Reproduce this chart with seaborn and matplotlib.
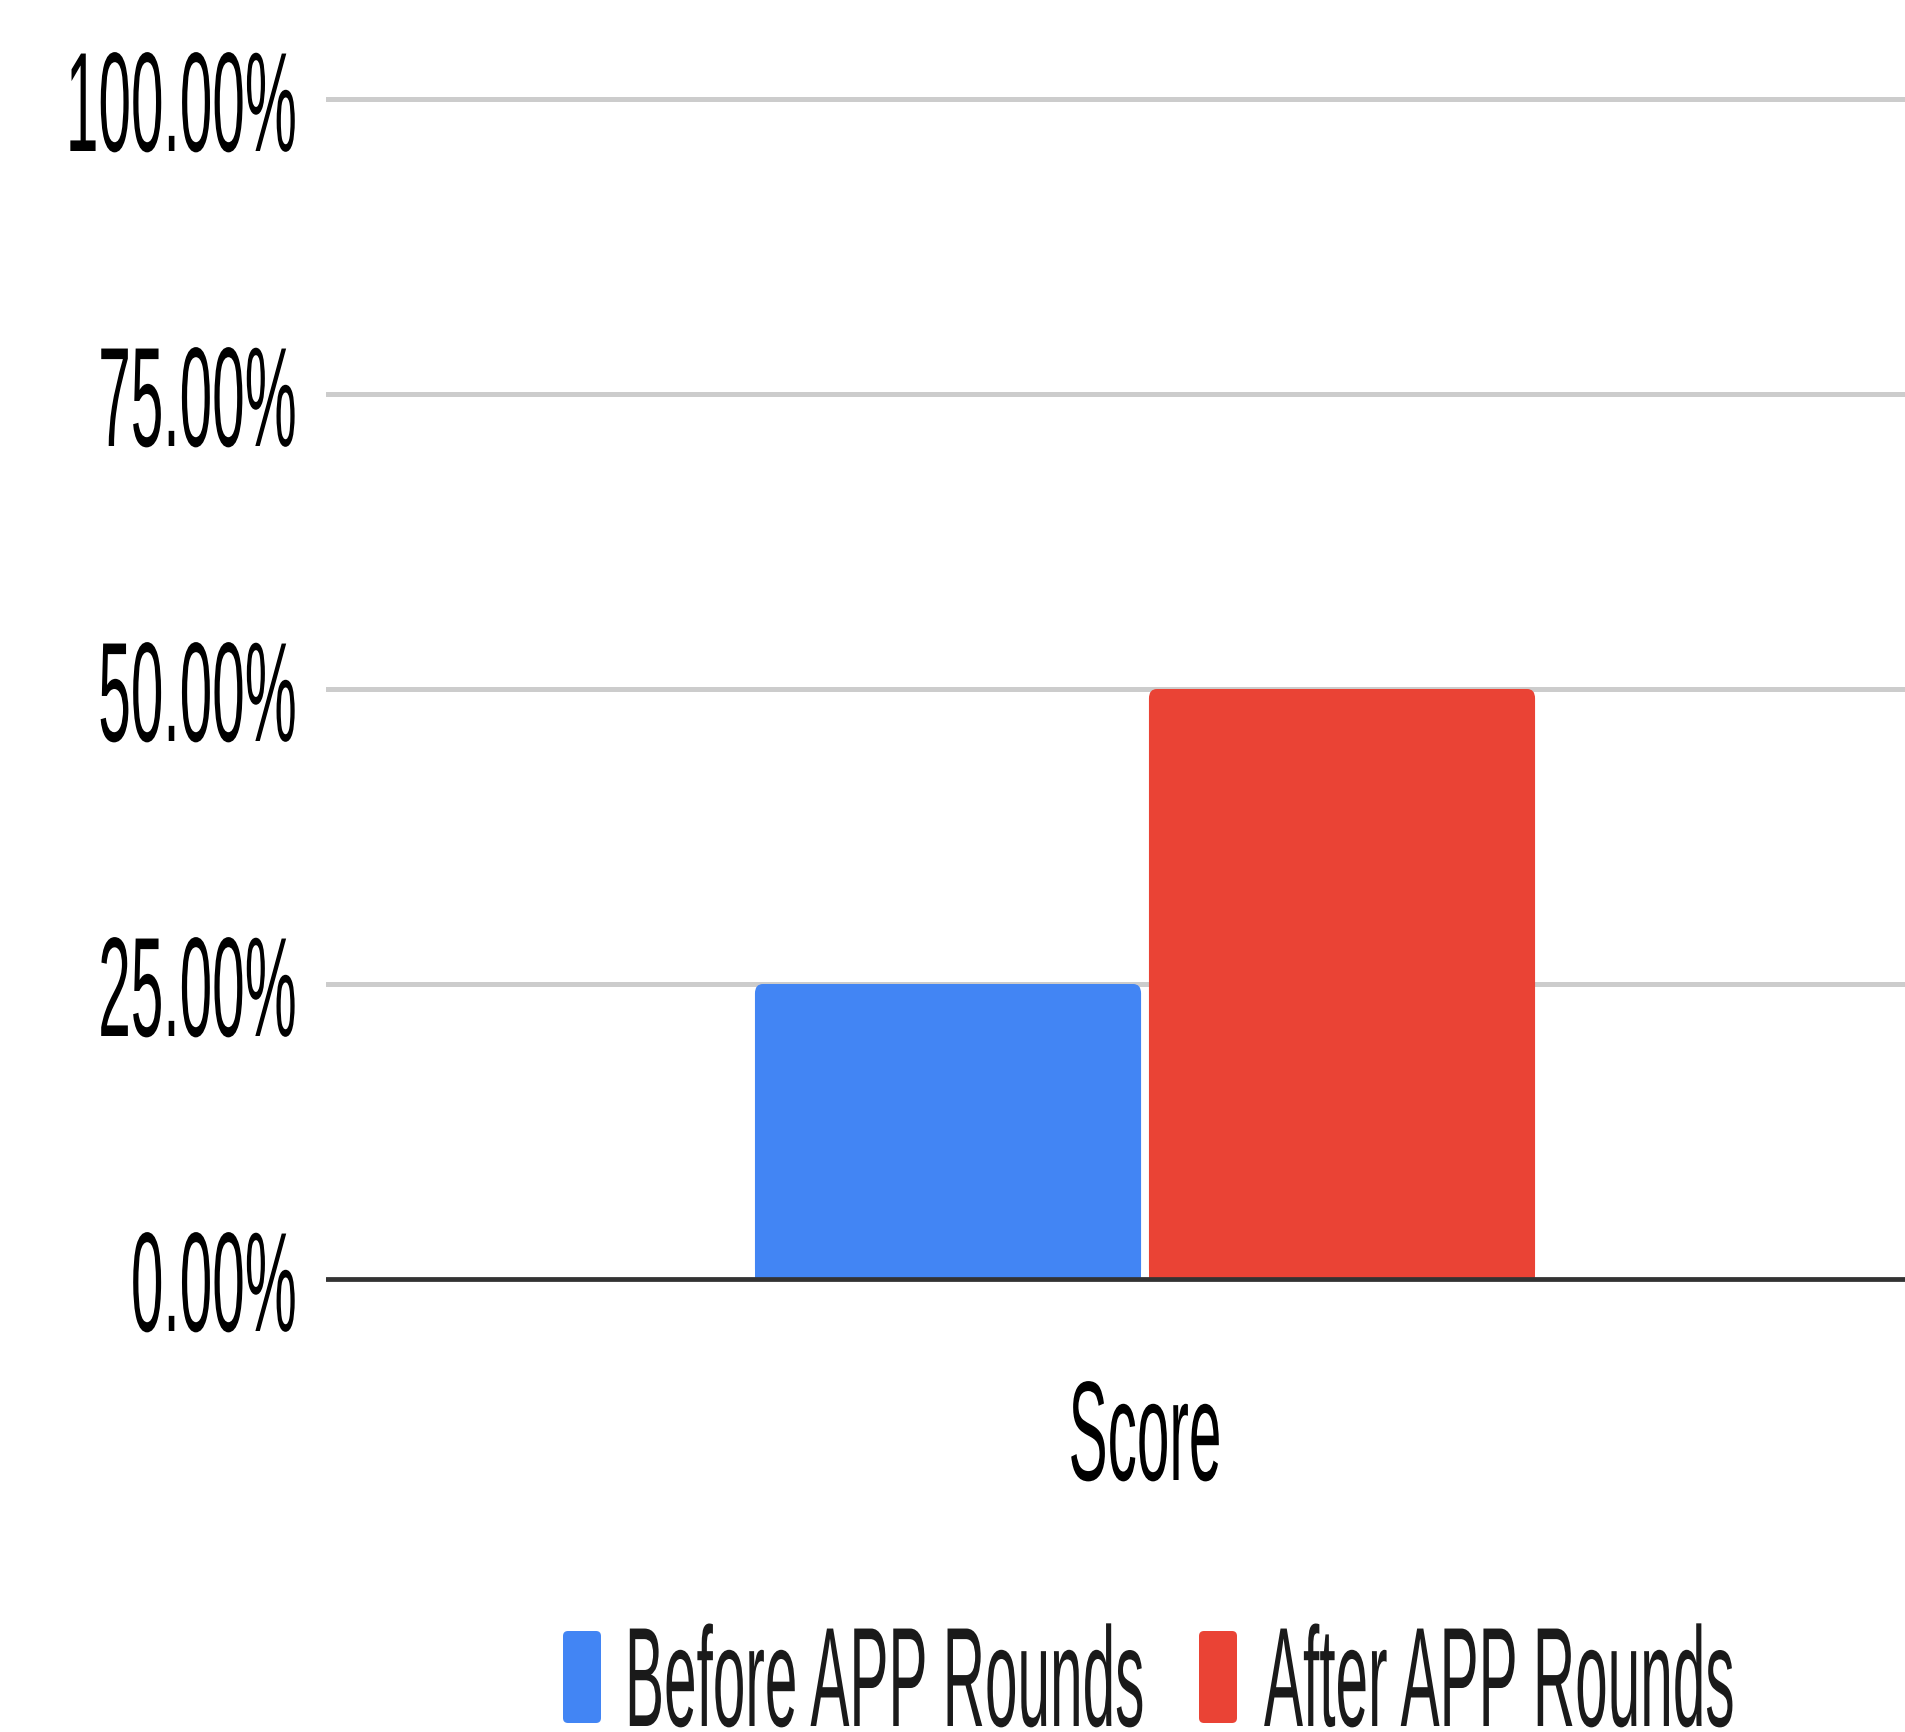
import matplotlib
matplotlib.use("Agg")
import matplotlib.pyplot as plt
from matplotlib.patches import FancyBboxPatch
from matplotlib.patheffects import AbstractPathEffect
from matplotlib.text import Text
from matplotlib.ticker import PercentFormatter
from matplotlib.transforms import Affine2D, Bbox
import pandas as pd
import seaborn as sns

# ---- data -------------------------------------------------------------
categories = ["Score"]
phases = ["Before APP Rounds", "After APP Rounds"]
scores = [0.25, 0.50]
phase_colors = ["#4285F4", "#EA4335"]
y_ticks = [0.0, 0.25, 0.50, 0.75, 1.0]

df = pd.DataFrame({
    "metric": categories * len(phases),
    "phase": phases,
    "score": scores,
})


class HSqueeze(AbstractPathEffect):
    """Scale glyph outlines horizontally about a display-space x anchor."""

    def __init__(self, sx):
        super().__init__()
        self.sx = sx
        self.x0 = 0.0

    def draw_path(self, renderer, gc, tpath, affine, rgbFace=None):
        squeeze = (Affine2D().translate(-self.x0, 0)
                   .scale(self.sx, 1.0).translate(self.x0, 0))
        renderer.draw_path(gc, tpath, affine + squeeze, rgbFace)


class CondensedText(Text):
    """Text drawn in a horizontally condensed face, anchored at its alignment edge."""

    def __init__(self, x, y, text, sx=0.41, **kwargs):
        super().__init__(x, y, text, **kwargs)
        self._sx = sx
        self._squeeze = HSqueeze(sx)
        self.set_path_effects([self._squeeze])

    def _anchor(self, bb):
        ha = self.get_horizontalalignment()
        if ha == "right":
            return bb.x1
        if ha == "left":
            return bb.x0
        return 0.5 * (bb.x0 + bb.x1)

    def get_window_extent(self, renderer=None, dpi=None):
        bb = super().get_window_extent(renderer, dpi)
        x0 = self._anchor(bb)
        return Bbox.from_extents(x0 + (bb.x0 - x0) * self._sx, bb.y0,
                                 x0 + (bb.x1 - x0) * self._sx, bb.y1)

    def draw(self, renderer):
        if not self.get_visible():
            return
        bb = super().get_window_extent(renderer)
        self._squeeze.x0 = self._anchor(bb)
        super().draw(renderer)


SX = 0.413
FS = 102

sns.set_theme(style="white")
plt.rcParams["font.family"] = ["Liberation Sans", "DejaVu Sans"]

W, H = 1906, 1733
fig = plt.figure(figsize=(W / 100, H / 100), dpi=100)
fig.patch.set_facecolor("white")

# plot area: 0% at y=1280px, 100% at y=100px, left edge at x=326px
px_per_unit = 1180.0
y_lo, y_hi = -0.01, 1.01
ax_bottom_px = 1280 + (0 - y_lo) * px_per_unit
ax_h_px = (y_hi - y_lo) * px_per_unit
ax_left_px = 326
ax_w_px = W - ax_left_px
ax = fig.add_axes([ax_left_px / W, 1 - ax_bottom_px / H,
                   ax_w_px / W, ax_h_px / H])

sns.barplot(data=df, x="metric", y="score", hue="phase", hue_order=phases,
            palette=phase_colors, saturation=1, width=0.8, gap=0.02,
            linewidth=0, legend=False, errorbar=None, ax=ax, zorder=2)

# soften the top corners of each bar
corner = 0.008
for bar in list(ax.patches):
    bx, by = bar.get_x(), bar.get_y()
    bw, bh = bar.get_width(), bar.get_height()
    ax.add_patch(FancyBboxPatch((bx, by), bw, bh,
                                boxstyle=f"round,pad=0,rounding_size={corner}",
                                facecolor=bar.get_facecolor(),
                                edgecolor="none", zorder=2))
    bar.set_height(bh - 2.5 * corner)

ax.set_ylim(y_lo, y_hi)
ax.set_xlim(-0.8315, 0.7726)
ax.set_yticks(y_ticks)
pct = PercentFormatter(xmax=1, decimals=2)
ax.yaxis.set_major_formatter(pct)
ax.set_xlabel("")
ax.set_ylabel("")

for s in ax.spines.values():
    s.set_visible(False)

ax.yaxis.grid(True, color="#cccccc", linewidth=3.6, zorder=0)
ax.xaxis.grid(False)
ax.set_axisbelow(True)
ax.axhline(0, color="#333333", linewidth=3.4, zorder=3)

# tick labels are drawn as condensed text
x_positions = list(ax.get_xticks())
x_names = [t.get_text() for t in ax.get_xticklabels()]
ax.tick_params(axis="both", length=0, labelleft=False, labelbottom=False)

ytrans = ax.get_yaxis_transform()
for v in y_ticks:
    fig.add_artist(CondensedText(-29.5 / ax_w_px, v, pct(v), sx=SX,
                                 transform=ytrans, ha="right",
                                 va="center_baseline", fontsize=FS,
                                 color="#000000", clip_on=False))

xtrans = ax.get_xaxis_transform()
for xp, name in zip(x_positions, x_names):
    fig.add_artist(CondensedText(xp, (ax_bottom_px - 1481) / ax_h_px, name,
                                 sx=SX, transform=xtrans, ha="center",
                                 va="baseline", fontsize=FS, color="#000000",
                                 clip_on=False))

# legend along the bottom edge
inch = fig.dpi_scale_trans
legend_items = [
    (phases[0], phase_colors[0], 5.63, 6.25),
    (phases[1], phase_colors[1], 11.99, 12.64),
]
for name, color, box_x, text_x in legend_items:
    fig.add_artist(FancyBboxPatch((box_x, 0.09), 0.38, 0.92,
                                  boxstyle="round,pad=0,rounding_size=0.05",
                                  transform=inch, facecolor=color,
                                  edgecolor="none"))
    fig.add_artist(CondensedText(text_x, 0.06, name, sx=SX, transform=inch,
                                 ha="left", va="baseline", fontsize=FS,
                                 color="#1a1a1a", clip_on=False))

fig.savefig("out.png", dpi=100, facecolor="white")
